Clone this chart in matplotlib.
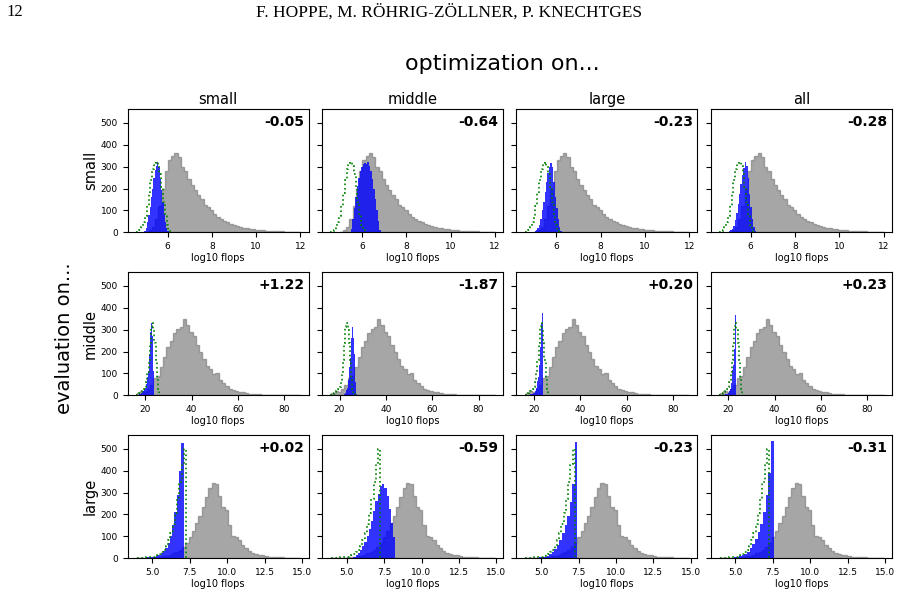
import numpy as np
import matplotlib.pyplot as plt

rows = ["small", "middle", "large"]
cols = ["small", "middle", "large", "all"]

# change in mean log10 flops, one value per panel
scores = [
    ["-0.05", "-0.64", "-0.23", "-0.28"],
    ["+1.22", "-1.87", "+0.20", "+0.23"],
    ["+0.02", "-0.59", "-0.23", "-0.31"],
]

# unoptimized (gray) histograms, one per evaluation set: (lo, hi) and bin counts
small_ref_range = (5.0, 12.0)
small_ref_counts = [3, 10, 25, 60, 120, 200, 280, 330, 350, 362, 345, 300, 280, 245, 215, 195,
                    170, 150, 125, 115, 100, 82, 70, 60, 52, 45, 40, 33, 28, 23, 20, 18,
                    15, 13, 12, 10, 9, 8, 7, 6, 5, 4, 4, 3, 3, 2, 2, 1]
middle_ref_range = (16.5, 87.0)
middle_ref_counts = [10, 20, 15, 30, 45, 80, 90, 130, 175, 220, 250, 285, 305, 310, 348, 320,
                     290, 270, 230, 200, 165, 135, 120, 95, 100, 70, 55, 42, 30, 25, 20, 16,
                     14, 10, 7, 6, 4, 4, 3, 3, 2, 2, 2, 1, 1, 1, 1, 1, 1, 1]
large_ref_range = (3.9, 14.9)
large_ref_counts = [1, 1, 2, 2, 3, 4, 5, 7, 9, 12, 16, 22, 30, 40, 52, 68, 95, 125, 160, 195,
                    235, 280, 320, 345, 340, 285, 235, 220, 150, 100, 95, 85, 60, 45, 32, 25,
                    20, 16, 13, 10, 8, 7, 6, 5, 4, 3, 3, 2, 2, 1]

# best per-instance (green dotted) histograms
small_best_range = (4.57, 6.2)
small_best_counts = [2, 5, 12, 25, 45, 75, 120, 180, 240, 290, 318, 322, 305, 265, 205, 140,
                     80, 35, 12, 3]
middle_best_range = (16.0, 26.5)
middle_best_counts = [3, 5, 8, 12, 15, 18, 22, 30, 40, 60, 100, 160, 240, 310, 330, 300, 240,
                      160, 80, 30, 5]
large_best_range = (3.95, 7.25)
large_best_counts = [2, 2, 3, 3, 4, 5, 6, 8, 10, 14, 20, 28, 40, 58, 82, 115, 155, 205, 270,
                     350, 430, 500]

# optimized (blue) histograms, one per optimization set
small_opt_ranges = [(4.9, 6.05), (5.5, 6.85), (4.95, 6.25), (4.95, 6.25)]
small_opt_counts = [
    [3, 8, 20, 45, 80, 115, 160, 200, 250, 285, 305, 320, 300, 245, 195, 140, 85, 45, 18, 5],
    [15, 60, 110, 160, 210, 250, 280, 300, 312, 318, 310, 320, 305, 280, 245, 200, 150, 100, 50, 12],
    [2, 5, 10, 18, 35, 60, 100, 140, 185, 230, 270, 300, 318, 300, 230, 160, 110, 60, 25, 5],
    [2, 4, 9, 16, 30, 55, 90, 130, 175, 220, 262, 295, 320, 305, 250, 175, 115, 60, 25, 6],
]
middle_opt_ranges = [(17.0, 24.0), (21.5, 27.5), (17.0, 23.75), (17.0, 23.25)]
middle_opt_counts = [
    [2, 3, 5, 6, 8, 10, 12, 14, 17, 20, 24, 28, 34, 42, 52, 65, 85, 110, 145, 190, 240, 290,
     330, 320, 270, 190, 110, 40],
    [2, 3, 5, 8, 12, 18, 25, 35, 50, 70, 95, 130, 170, 215, 260, 295, 310, 300, 260, 190, 120,
     60, 20, 5],
    [1, 1, 2, 2, 3, 3, 4, 5, 6, 7, 8, 10, 12, 15, 20, 27, 35, 48, 65, 85, 110, 140, 175, 220,
     270, 330, 378],
    [1, 1, 2, 2, 3, 3, 4, 5, 6, 7, 8, 10, 12, 15, 20, 30, 40, 55, 80, 115, 140, 170, 210, 260,
     365],
]
large_opt_ranges = [(4.0, 7.1), (5.3, 8.25), (4.0, 7.42), (4.0, 7.55)]
large_opt_counts = [
    [1, 2, 2, 3, 4, 5, 6, 8, 11, 15, 22, 32, 48, 70, 100, 150, 210, 290, 400, 525],
    [3, 8, 15, 25, 38, 55, 75, 100, 135, 170, 215, 260, 295, 330, 340, 320, 285, 225, 160, 95],
    [1, 1, 2, 2, 3, 4, 6, 8, 12, 18, 28, 42, 60, 85, 115, 150, 195, 255, 340, 530],
    [1, 1, 2, 2, 3, 4, 6, 9, 13, 20, 30, 45, 65, 90, 120, 155, 210, 290, 390, 535],
]

ref = [(small_ref_range, small_ref_counts), (middle_ref_range, middle_ref_counts),
       (large_ref_range, large_ref_counts)]
best = [(small_best_range, small_best_counts), (middle_best_range, middle_best_counts),
        (large_best_range, large_best_counts)]
opt = [(small_opt_ranges, small_opt_counts), (middle_opt_ranges, middle_opt_counts),
       (large_opt_ranges, large_opt_counts)]


def draw_hist(ax, rng, counts, **kw):
    edges = np.linspace(rng[0], rng[1], len(counts) + 1)
    centers = (edges[:-1] + edges[1:]) / 2
    ax.hist(centers, bins=edges, weights=counts, **kw)


fig = plt.figure(figsize=(8.99, 5.95), dpi=100)
gs = fig.add_gridspec(3, 4, left=0.142, right=0.992, bottom=0.0617, top=0.8163,
                      wspace=0.074, hspace=0.325)
axes = gs.subplots(sharex="row", sharey=True)

for i in range(3):
    for j in range(4):
        ax = axes[i, j]
        draw_hist(ax, *ref[i], histtype="stepfilled", facecolor="gray", edgecolor="gray",
                  linewidth=1.0, alpha=0.7)
        draw_hist(ax, opt[i][0][j], opt[i][1][j], histtype="stepfilled", color="blue",
                  linewidth=0, alpha=0.8)
        draw_hist(ax, *best[i], histtype="step", color="green", linestyle=":", linewidth=1.2)
        ax.text(0.975, 0.95, scores[i][j], transform=ax.transAxes, ha="right", va="top",
                fontsize=10, fontweight="bold")
        ax.set_xlabel("log10 flops", fontsize=7, labelpad=1.5)
        ax.tick_params(labelsize=6.5)
        if i == 0:
            ax.set_title(cols[j], fontsize=10.5, pad=4)
        if j == 0:
            ax.set_ylabel(rows[i], fontsize=10.5, labelpad=2)

fig.text(0.559, 0.892, "optimization on...", ha="center", va="center", fontsize=16)
fig.text(0.072, 0.432, "evaluation on...", ha="center", va="center", rotation=90, fontsize=14)

# page header
fig.text(0.5, 1 - 12 / 595, "F. HOPPE, M. RÖHRIG-ZÖLLNER, P. KNECHTGES", ha="center",
         va="center", family="Liberation Serif", fontsize=12.5)
fig.text(0.007, 1 - 12 / 595, "12", ha="left", va="center", family="Liberation Serif",
         fontsize=12)

fig.savefig("out.png", dpi=100)
